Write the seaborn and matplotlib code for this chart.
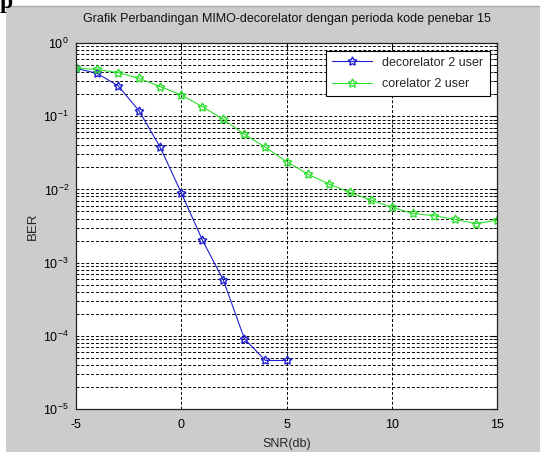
import numpy as np
import pandas as pd
import matplotlib
matplotlib.use("Agg")
import matplotlib.pyplot as plt
import matplotlib.ticker as mticker
from matplotlib.patches import Rectangle
import seaborn as sns

# SNR sweep (dB) and measured bit error rates
snr_decor = [-5, -4, -3, -2, -1, 0, 1, 2, 3, 4, 5]
ber_decor = [0.45, 0.385, 0.26, 0.118, 0.0376, 0.0090, 0.00204, 0.000575,
             9.1e-5, 4.6e-5, 4.6e-5]

snr_cor = [-5, -4, -3, -2, -1, 0, 1, 2, 3, 4, 5, 6, 7, 8, 9, 10, 11, 12, 13, 14, 15]
ber_cor = [0.45, 0.436, 0.393, 0.329, 0.253, 0.195, 0.135, 0.0908, 0.0566,
           0.0376, 0.024, 0.0162, 0.0119, 0.0091, 0.00716, 0.0057, 0.0047,
           0.00437, 0.0039, 0.0034, 0.0038]

labels = ["decorelator 2 user", "corelator 2 user"]
colors = ["#1f1fd0", "#2ee02e"]
title = "Grafik Perbandingan MIMO-decorelator dengan perioda kode penebar 15"
x_ticks = [-5, 0, 5, 10, 15]

sns.set_style("white")
plt.rcParams["font.family"] = ["Liberation Sans", "DejaVu Sans"]
plt.rcParams["mathtext.fontset"] = "custom"
plt.rcParams["mathtext.rm"] = "Liberation Sans"
plt.rcParams["mathtext.it"] = "Liberation Sans"

fig = plt.figure(figsize=(5.40, 4.55), dpi=100)
fig.patch.set_facecolor("white")

# grey figure window background
bg = Rectangle((6 / 540, 3 / 455), 1, (446 / 455), transform=fig.transFigure,
               facecolor="#cccccc", edgecolor="none", zorder=-10)
fig.add_artist(bg)
edge = plt.Line2D([6 / 540, 1], [449 / 455, 449 / 455], transform=fig.transFigure,
                  color="#a8a8a8", lw=1.0, zorder=-9)
fig.add_artist(edge)
fig.text(0.0, 1.0 + 8 / 455, "p", family="Liberation Serif", weight="bold",
         fontsize=17, ha="left", va="top", color="black")

ax = fig.add_axes([76 / 540, 46 / 455, 421 / 540, 366 / 455])
ax.set_facecolor("white")

df = pd.concat([
    pd.DataFrame({"SNR": snr_decor, "BER": ber_decor, "series": labels[0]}),
    pd.DataFrame({"SNR": snr_cor, "BER": ber_cor, "series": labels[1]}),
], ignore_index=True)

star = (5, 1, 0)
for lab, col in zip(labels, colors):
    sub = df[df["series"] == lab]
    sns.lineplot(data=sub, x="SNR", y="BER", ax=ax, color=col, lw=0.8,
                 marker=star, markersize=6.5, markerfacecolor="none",
                 markeredgecolor=col, markeredgewidth=1.0, label=lab,
                 estimator=None, sort=False)

ax.set_yscale("log")
ax.set_xlim(-5, 15)
ax.set_ylim(1e-5, 1)
ax.set_xticks(x_ticks)
ax.xaxis.set_major_formatter(mticker.FuncFormatter(lambda v, p: f"{int(v)}"))
ax.yaxis.set_major_locator(mticker.LogLocator(base=10, numticks=10))
ax.yaxis.set_minor_locator(mticker.LogLocator(base=10, subs=np.arange(2, 10), numticks=20))
ax.yaxis.set_minor_formatter(mticker.NullFormatter())

grid_kw = dict(color="black", linestyle=(0, (3, 2)), linewidth=0.7)
ax.grid(True, which="major", axis="both", **grid_kw)
ax.grid(True, which="minor", axis="y", **grid_kw)
ax.set_axisbelow(True)

ax.tick_params(which="both", direction="in", top=True, right=True,
               labelsize=9, colors="black")
ax.tick_params(axis="x", pad=7)
ax.tick_params(axis="y", pad=5)
ax.tick_params(which="major", length=5, width=0.8)
ax.tick_params(which="minor", length=3, width=0.6)
for s in ax.spines.values():
    s.set_color("#222222")
    s.set_linewidth(0.9)

ax.set_title(title, fontsize=9, pad=15, color="#111111")
ax.set_xlabel("SNR(db)", fontsize=9, labelpad=5)
ax.set_ylabel("BER", fontsize=9.5, labelpad=3)

leg = ax.legend(loc="upper right", fontsize=9, frameon=True, fancybox=False,
                edgecolor="black", framealpha=1, borderpad=0.5, handlelength=3.2,
                borderaxespad=0.6, labelspacing=0.75)
leg.get_frame().set_linewidth(0.8)

fig.savefig("out.png", dpi=100, facecolor=fig.get_facecolor())
